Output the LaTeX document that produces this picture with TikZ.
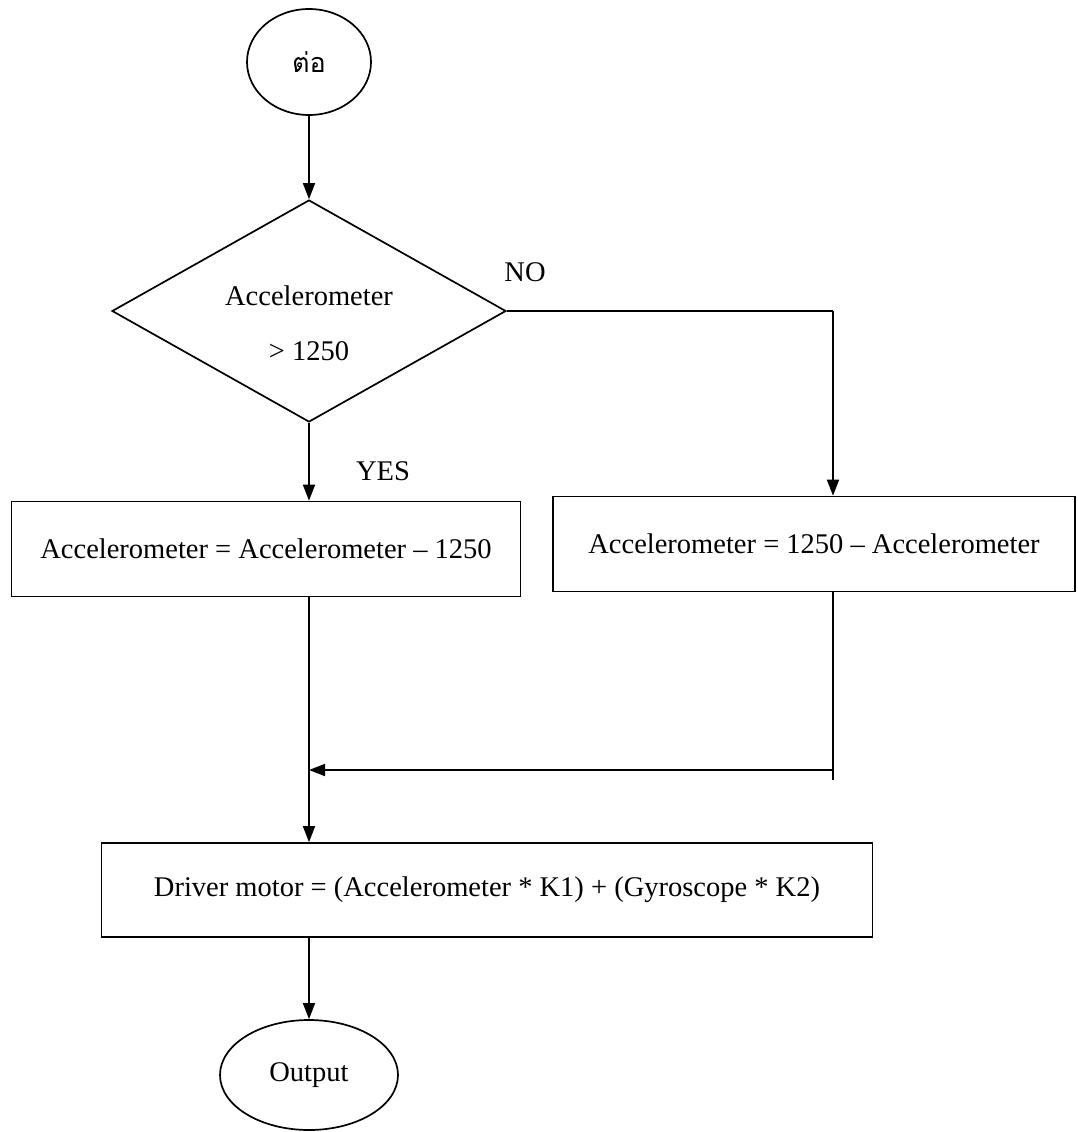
\documentclass[tikz,border=0pt]{standalone}
\usepackage{fontspec}
\setmainfont{Liberation Serif}
\newfontfamily\thaifont[Script=Thai]{Loma}
\usetikzlibrary{shapes.geometric,arrows.meta}
\begin{document}
\begin{tikzpicture}[x=1pt,y=-1pt,line width=1.7pt,
  font=\fontsize{28.5}{34}\selectfont,
  procbox/.style={draw,rectangle,inner sep=0pt},
  termnode/.style={draw,ellipse,inner sep=0pt},
  decnode/.style={draw,diamond,inner sep=0pt},
  lbl/.style={inner sep=0pt},
  arr/.style={-{Triangle[length=16pt,width=12pt]}}]
\useasboundingbox[fill=white] (0,0) rectangle (1078,1132);

\node[termnode,minimum width=124pt,minimum height=106pt] (start) at (309,62) {\thaifont\fontsize{27}{30}\selectfont ต่อ};
\node[decnode,minimum width=394pt,minimum height=222pt] (dec) at (309,311) {};
\node[lbl,align=center] (dectxt) at (309,323) {Accelerometer\\[21pt]> 1250};
\node[procbox,minimum width=509pt,minimum height=95pt] (lbox) at (266,549) {Accelerometer = Accelerometer – 1250};
\node[procbox,minimum width=522pt,minimum height=95pt] (rbox) at (814,544) {Accelerometer = 1250 – Accelerometer};
\node[procbox,minimum width=771pt,minimum height=94pt] (drv) at (487,890) {Driver motor = (Accelerometer * K1) + (Gyroscope * K2)};
\node[termnode,minimum width=178pt,minimum height=110pt] (out) at (309,1075) {Output};

\node[lbl] (nolbl) at (525,272) {NO};
\node[lbl] (yeslbl) at (383,471) {YES};

\coordinate (ncorner) at (dec.east -| 833,0);
\coordinate (rend) at (833,780);
\coordinate (mjoin) at (833,770);
\coordinate (mtip) at (309,770);

\draw[arr] (start.south) -- (dec.north);
\draw[arr] (dec.south) -- (lbox.north -| dec.south);
\draw (dec.east) -- (ncorner);
\draw[arr] (ncorner) -- (rbox.north -| ncorner);
\draw (rbox.south -| ncorner) -- (rend);
\draw[arr] (mjoin) -- (mtip);
\draw[arr] (lbox.south -| dec.south) -- (drv.north -| dec.south);
\draw[arr] (drv.south -| dec.south) -- (out.north);
\end{tikzpicture}
\end{document}
